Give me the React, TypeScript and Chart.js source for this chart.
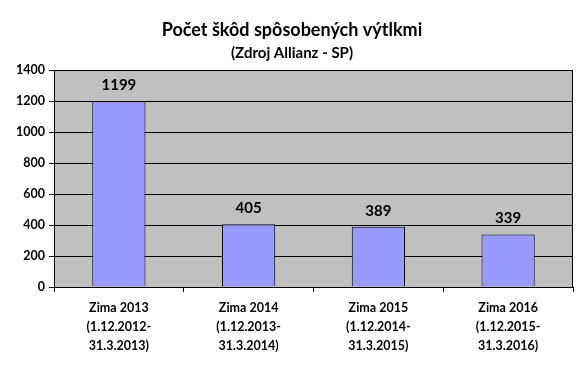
import React, { useEffect, useRef } from "react";
import { Chart, registerables } from "chart.js";

Chart.register(...registerables);

const categories: string[][] = [
  ["Zima 2013", "(1.12.2012-", "31.3.2013)"],
  ["Zima 2014", "(1.12.2013-", "31.3.2014)"],
  ["Zima 2015", "(1.12.2014-", "31.3.2015)"],
  ["Zima 2016", "(1.12.2015-", "31.3.2016)"],
];
const values: number[] = [1199, 405, 389, 339];
const yTicks: number[] = [0, 200, 400, 600, 800, 1000, 1200, 1400];
const titleText = "Počet škôd spôsobených výtlkmi";
const subtitleText = "(Zdroj Allianz - SP)";

const FONT = "Lato, 'Open Sans', sans-serif";

const plotFrame = {
  id: "plotFrame",
  beforeDraw(chart: any) {
    const { ctx, chartArea: a } = chart;
    ctx.save();
    ctx.fillStyle = "#C0C0C0";
    ctx.fillRect(a.left, a.top, a.right - a.left, a.bottom - a.top);
    ctx.restore();
  },
  afterDraw(chart: any) {
    const { ctx, chartArea: a, width } = chart;
    ctx.save();
    ctx.strokeStyle = "#000";
    ctx.lineWidth = 1;
    ctx.strokeRect(Math.round(a.left) + 0.5, Math.round(a.top) + 0.5, Math.round(a.right - a.left) - 1, Math.round(a.bottom - a.top));
    ctx.fillStyle = "#000";
    ctx.textAlign = "center";
    ctx.textBaseline = "middle";
    ctx.font = `bold 18px ${FONT}`;
    ctx.fillText(titleText, width / 2, 30);
    ctx.font = `bold 15px ${FONT}`;
    ctx.fillText(subtitleText, width / 2, 53);
    ctx.restore();
  },
};

const dataLabels = {
  id: "dataLabels",
  afterDatasetsDraw(chart: any) {
    const { ctx } = chart;
    const meta = chart.getDatasetMeta(0);
    ctx.save();
    ctx.font = `bold 15px ${FONT}`;
    ctx.fillStyle = "#000";
    ctx.textAlign = "center";
    ctx.textBaseline = "middle";
    meta.data.forEach((bar: any, i: number) => {
      ctx.fillText(String(values[i]), bar.x, bar.y - 16);
    });
    ctx.restore();
  },
};

export default function App() {
  const ref = useRef<HTMLCanvasElement>(null);
  useEffect(() => {
    if (!ref.current) return;
    const chart = new Chart(ref.current, {
      type: "bar",
      data: {
        labels: categories,
        datasets: [
          {
            data: values,
            backgroundColor: "#9999FF",
            borderColor: "#000",
            borderWidth: 1,
            categoryPercentage: 0.82,
            barPercentage: 0.5,
          },
        ],
      },
      options: {
        responsive: false,
        animation: false,
        layout: { padding: { left: 0, right: 11, top: 70, bottom: 0 } },
        plugins: {
          legend: { display: false },
          tooltip: { enabled: false },
          title: { display: false },
        },
        scales: {
          x: {
            offset: true,
            grid: {
              offset: true,
              drawOnChartArea: false,
              drawTicks: true,
              tickLength: 5,
              color: "#000",
            },
            border: { color: "#000" },
            ticks: {
              color: "#000",
              font: { family: FONT, size: 12.5, weight: "bold", lineHeight: 1.5 },
              padding: 7,
              maxRotation: 0,
              autoSkip: false,
            },
            afterFit(scale: any) {
              scale.height = 86;
            },
          },
          y: {
            min: 0,
            max: 1400,
            afterBuildTicks(scale: any) {
              scale.ticks = yTicks.map((v) => ({ value: v }));
            },
            grid: { color: "#000", tickLength: 5 },
            border: { color: "#000" },
            ticks: {
              color: "#000",
              font: { family: FONT, size: 12.5, weight: "bold" },
              padding: 4,
              callback: (v: any) => String(v),
            },
            afterFit(scale: any) {
              scale.width = 54;
            },
          },
        },
      },
      plugins: [plotFrame, dataLabels],
    });
    return () => chart.destroy();
  }, []);
  return (
    <div style={{ position: "absolute", left: 0, top: 0, width: 584, height: 373, background: "#fff" }}>
      <canvas ref={ref} width={584} height={373} />
    </div>
  );
}
